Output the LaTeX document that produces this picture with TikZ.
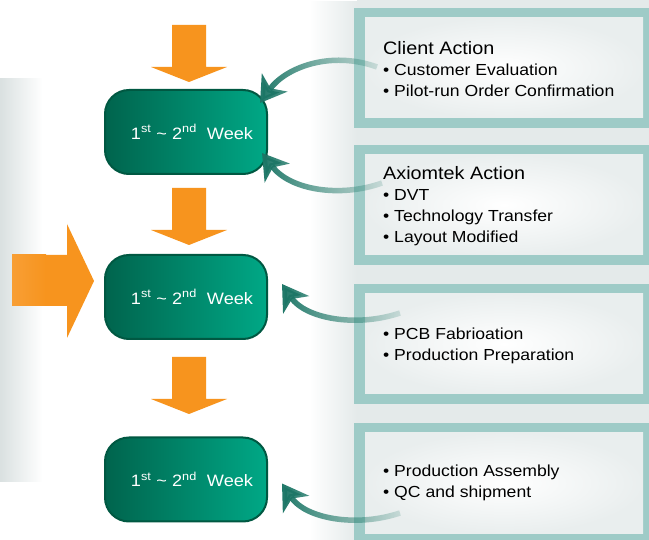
\documentclass[tikz,border=0pt]{standalone}
\usepackage{fontspec}
\setmainfont{Liberation Sans}[FakeStretch=1.1]
\usetikzlibrary{arrows.meta, calc, fadings, positioning}
\definecolor{weekdark}{RGB}{0,100,77}
\definecolor{weeklight}{RGB}{0,168,134}
\definecolor{weekline}{RGB}{0,88,66}
\definecolor{steporange}{RGB}{247,148,30}
\definecolor{frameteal}{RGB}{158,203,199}
\definecolor{panelgrey}{RGB}{228,234,234}
\definecolor{stripgrey}{RGB}{218,225,225}
\definecolor{curveteal}{RGB}{28,118,102}
\tikzfading[name=fade tail, left color=transparent!0, right color=transparent!85]
\tikzfading[name=fade out, left color=transparent!0, right color=transparent!100]
\tikzfading[name=fade in, left color=transparent!100, right color=transparent!0]
\tikzset{
    week/.style={rectangle, rounded corners=24pt, draw=weekline, line width=2pt,
        left color=weekdark, right color=weeklight, minimum width=162pt,
        minimum height=84pt, text=white, font=\fontsize{16.5}{18}\selectfont}, % the green boxes
    steparrow/.style={fill=steporange}, % orange block arrows
    paneltext/.style={anchor=north west, inner sep=0pt, align=left,
        font=\fontsize{16}{21}\selectfont},
    feedback/.style={line width=5.5pt, curveteal, path fading=fade tail,
        -{Stealth[length=25pt, width=31pt, inset=7pt]}}, % teal curved arrows
}
\newcommand{\weektext}{\hspace*{12pt}1\textsuperscript{st} \textasciitilde{} 2\textsuperscript{nd}\ \ Week}
\newcommand{\headline}{\fontsize{18}{21}\selectfont}

\begin{document}
\begin{tikzpicture}[x=1pt, y=-1pt]
    \clip (0,0) rectangle (649,540);
    \fill[white] (0,0) rectangle (649,540);

    % grey backdrop
    \fill[stripgrey, path fading=fade out] (0,78) rectangle (42,482);
    \fill[panelgrey, path fading=fade in] (310,0) rectangle (358,540);
    \fill[panelgrey] (357,0) rectangle (649,540);

    % right panels
    \foreach \y in {8,145,284,423} {
        \fill[frameteal] (354,\y) rectangle ++(295,120);
        \shade[inner color=white, outer color=panelgrey!80] (365,\y+10) rectangle ++(278,100);
    }

    \node[paneltext] (client) at (383,41) {{\headline Client Action}\\
        \textbullet\ Customer Evaluation\\ \textbullet\ Pilot-run Order Confirmation};
    \node[paneltext] (axiomtek) at (383,166) {{\headline Axiomtek Action}\\
        \textbullet\ DVT\\ \textbullet\ Technology Transfer\\ \textbullet\ Layout Modified};
    \node[paneltext] (pcb) at (383,328) {\textbullet\ PCB Fabrioation\\ \textbullet\ Production Preparation};
    \node[paneltext] (assembly) at (383,465) {\textbullet\ Production Assembly\\ \textbullet\ QC and shipment};

    % week boxes
    \node[week] (week1) at (186,132) {\weektext};
    \node[week] (week2) at (186,297) {\weektext};
    \node[week] (week3) at (186,479.5) {\weektext};

    % orange arrows
    \foreach \y in {25,188,357}
        \fill[steparrow] (172,\y) -- ++(34,0) -- ++(0,42) -- ++(21,0) -- ++(-38,15)
            -- ++(-38,-15) -- ++(21,0) -- cycle;
    \shade[left color=steporange!90!white, right color=steporange] (12,255) rectangle (46,306);
    \fill[steparrow] (45,255) -- (67,255) -- (67,224) -- (94,281) -- (67,338) -- (67,306) -- (45,306) -- cycle;

    % feedback curves
    \coordinate (t1) at (377,67);
    \coordinate (t2) at (382,183);
    \coordinate (t3) at (400,313);
    \coordinate (t4) at (400,513);
    \draw[feedback] (t1) .. controls (330,50) and (285,68) .. ($(week1.north east)+(-8,14)$);
    \draw[feedback] (t2) .. controls (340,198) and (290,190) .. ($(week1.south east)+(-6,-22)$);
    \draw[feedback] (t3) .. controls (355,328) and (305,318) .. ($(week2.east)+(14,-13)$);
    \draw[feedback] (t4) .. controls (355,528) and (305,518) .. ($(week3.east)+(14,4)$);
\end{tikzpicture}
\end{document}
